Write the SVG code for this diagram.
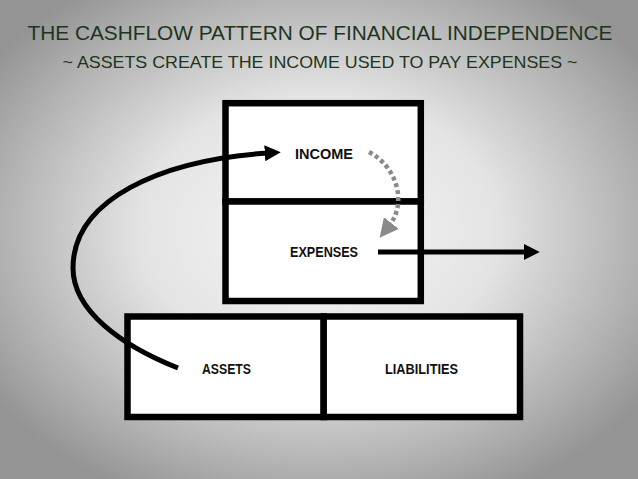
<svg xmlns="http://www.w3.org/2000/svg" width="638" height="479" viewBox="0 0 638 479">
<defs>
<radialGradient id="bg" cx="50%" cy="48%" r="62%" fx="50%" fy="48%">
<stop offset="0" stop-color="#f6f6f6"/>
<stop offset="0.45" stop-color="#e4e4e4"/>
<stop offset="0.8" stop-color="#b2b2b2"/>
<stop offset="1" stop-color="#949494"/>
</radialGradient>
<marker id="ah" viewBox="0 0 10 10" refX="2" refY="5" markerWidth="3.2" markerHeight="3.2" orient="auto" markerUnits="strokeWidth">
<path d="M0,0 L10,5 L0,10 Z" fill="#000"/>
</marker>
<marker id="ahg" viewBox="0 0 10 10" refX="2" refY="5" markerWidth="4.2" markerHeight="4.2" orient="auto" markerUnits="strokeWidth">
<path d="M0,0 L10,5 L0,10 Z" fill="#8a8a8a"/>
</marker>
<style>
.box{fill:#fff;stroke:#000;stroke-width:6.5}
.lbl{font-family:"Liberation Sans",Arial,sans-serif;font-weight:bold;font-size:14.5px;fill:#111;text-anchor:middle}
.ttl{font-family:"Liberation Sans",Arial,sans-serif;fill:#1d3520;text-anchor:middle}
.conn{fill:none;stroke:#000;stroke-width:5}
.dot{fill:none;stroke:#8a8a8a;stroke-width:4.5;stroke-dasharray:4 3}
</style>
</defs>
<rect width="638" height="479" fill="url(#bg)"/>
<g id="title">
<text class="ttl" x="320" y="40" font-size="20" textLength="585" lengthAdjust="spacingAndGlyphs">THE CASHFLOW PATTERN OF FINANCIAL INDEPENDENCE</text>
<text class="ttl" x="320" y="68" font-size="16.5" textLength="515" lengthAdjust="spacingAndGlyphs">~ ASSETS CREATE THE INCOME USED TO PAY EXPENSES ~</text>
</g>
<g id="income">
<rect class="box" x="225.5" y="103.2" width="195.3" height="98.3"/>
<text class="lbl" x="324" y="159" textLength="58" lengthAdjust="spacingAndGlyphs">INCOME</text>
</g>
<g id="expenses">
<rect class="box" x="225.5" y="201.5" width="195.3" height="99.5"/>
<text class="lbl" x="324" y="257" textLength="68" lengthAdjust="spacingAndGlyphs">EXPENSES</text>
</g>
<g id="assets">
<rect class="box" x="127.5" y="316.5" width="196.2" height="100.5"/>
<text class="lbl" x="226.5" y="374" textLength="49" lengthAdjust="spacingAndGlyphs">ASSETS</text>
</g>
<g id="liabilities">
<rect class="box" x="323.7" y="316.5" width="196.3" height="100.5"/>
<text class="lbl" x="421.5" y="374" textLength="73" lengthAdjust="spacingAndGlyphs">LIABILITIES</text>
</g>
<g id="connectors">
<path class="conn" d="M178,368 C120,345 73,310 73,268 C73,200 160,160 268,153" marker-end="url(#ah)"/>
<path class="conn" d="M378,252 L527,252" marker-end="url(#ah)"/>
<path class="dot" d="M369,152 C396,166 408,202 389,226" marker-end="url(#ahg)"/>
</g>
</svg>
